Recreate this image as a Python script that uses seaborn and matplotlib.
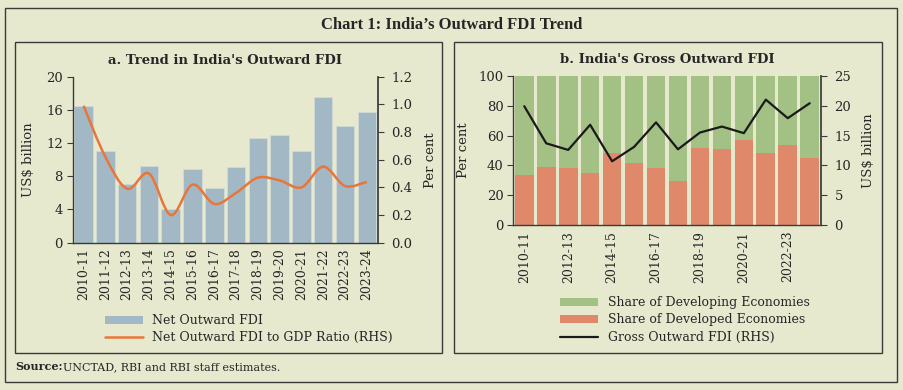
import numpy as np
import pandas as pd
import matplotlib
matplotlib.use('Agg')
import matplotlib.pyplot as plt
import seaborn as sns
from matplotlib.path import Path
from matplotlib.patches import PathPatch, Rectangle, Patch
from matplotlib.lines import Line2D

# data
years = ['2010-11', '2011-12', '2012-13', '2013-14', '2014-15', '2015-16', '2016-17',
         '2017-18', '2018-19', '2019-20', '2020-21', '2021-22', '2022-23', '2023-24']
net_ofdi = [16.5, 11.1, 7.1, 9.2, 4.1, 8.9, 6.6, 9.1, 12.6, 13.0, 11.0, 17.6, 14.0, 15.7]
ofdi_gdp = [0.99, 0.62, 0.39, 0.50, 0.20, 0.42, 0.28, 0.36, 0.47, 0.45, 0.40, 0.55, 0.41, 0.44]
developed_share = [33.6, 39.0, 38.5, 34.7, 48.3, 41.9, 38.5, 29.4, 51.4, 50.8, 57.2, 48.6, 53.9, 45.2]
developing_share = [66.4, 61.0, 61.5, 65.3, 51.7, 58.1, 61.5, 70.6, 48.6, 49.2, 42.8, 51.4, 46.1, 54.8]
gross_ofdi = [19.9, 13.7, 12.6, 16.8, 10.7, 13.1, 17.2, 12.7, 15.5, 16.5, 15.4, 21.0, 17.9, 20.4]

df_a = pd.DataFrame({'year': years, 'net': net_ofdi, 'ratio': ofdi_gdp})
df_b = pd.DataFrame({'year': years, 'developed': developed_share,
                     'developing': developing_share, 'gross': gross_ofdi})
df_b['total'] = df_b['developed'] + df_b['developing']

BG = '#E7E9CF'
BLUE = '#A3B8C5'
ORANGE = '#E8763A'
GREEN = '#A3C184'
SALMON = '#E0896A'
FRAME = '#3A3A3A'

sns.set_theme(style='white')
plt.rcParams['font.family'] = ['DejaVu Serif']
plt.rcParams['font.size'] = 9

fig = plt.figure(figsize=(9.04, 3.90), dpi=100, facecolor=BG)
W, H = 904, 390


def fx(x):
    return x / W


def fy(y):
    return 1 - y / H


# frames
fig.patches.append(Rectangle((fx(5.3), fy(381.7)), fx(897.3 - 5.3), (381.7 - 7.7) / H,
                             transform=fig.transFigure, fill=False, ec=FRAME, lw=1.0))
fig.patches.append(Rectangle((fx(15.3), fy(353.3)), fx(442.3 - 15.3), (353.3 - 41.7) / H,
                             transform=fig.transFigure, fill=False, ec=FRAME, lw=1.0))
fig.patches.append(Rectangle((fx(454.3), fy(353.3)), fx(882 - 454.3), (353.3 - 41.7) / H,
                             transform=fig.transFigure, fill=False, ec=FRAME, lw=1.0))

fig.text(0.5, fy(25), "Chart 1: India\u2019s Outward FDI Trend", ha='center', va='center',
         fontsize=12, fontweight='bold', family='Liberation Serif')
fig.text(fx(15), fy(367), "Source:", ha='left', va='center', fontsize=8, fontweight='bold')
fig.text(fx(63), fy(367), "UNCTAD, RBI and RBI staff estimates.", ha='left', va='center', fontsize=8)


def smooth_path(xs, ys, t=1 / 6):
    # Excel-like smoothed line: cubic Bezier segments through the data points
    xs = np.asarray(xs, float)
    ys = np.asarray(ys, float)
    n = len(xs)
    verts = [(xs[0], ys[0])]
    codes = [Path.MOVETO]
    for i in range(n - 1):
        p0 = (xs[max(i - 1, 0)], ys[max(i - 1, 0)])
        p1 = (xs[i], ys[i])
        p2 = (xs[i + 1], ys[i + 1])
        p3 = (xs[min(i + 2, n - 1)], ys[min(i + 2, n - 1)])
        c1 = (p1[0] + (p2[0] - p0[0]) * t, p1[1] + (p2[1] - p0[1]) * t)
        c2 = (p2[0] - (p3[0] - p1[0]) * t, p2[1] - (p3[1] - p1[1]) * t)
        verts += [c1, c2, p2]
        codes += [Path.CURVE4] * 3
    return Path(verts, codes)


def style_axes(ax, label_every):
    n = len(years)
    ax.set_facecolor(BG)
    ax.spines['top'].set_visible(False)
    for s in ['left', 'bottom', 'right']:
        ax.spines[s].set_color(FRAME)
        ax.spines[s].set_linewidth(1.0)
    ax.set_xlim(-0.5, n - 0.5)
    ax.set_xticks(np.arange(-0.5, n, 1.0))
    ax.set_xticklabels([])
    ax.set_xticks(np.arange(0, n, label_every), minor=True)
    ax.set_xticklabels(years[::label_every], minor=True, rotation=90, fontsize=9)
    ax.tick_params(axis='x', which='major', direction='out', length=4, color=FRAME, width=0.8)
    ax.tick_params(axis='x', which='minor', length=0, pad=4)
    ax.tick_params(axis='y', direction='out', length=4, color=FRAME, width=0.8, labelsize=9.5, pad=3)
    ax.set_xlabel('')
    ax.grid(False)


# ---- panel a
ax1 = fig.add_axes([fx(72.7), fy(242.7), fx(377.7 - 72.7), (242.7 - 76.7) / H])
sns.barplot(data=df_a, x='year', y='net', color=BLUE, width=0.85, saturation=1,
            edgecolor='#D2DAD6', linewidth=0.6, ax=ax1)
style_axes(ax1, 1)
ax1.set_ylim(0, 20)
ax1.set_yticks(range(0, 21, 4))
ax1.set_ylabel('US$ billion', fontsize=9.5, labelpad=8)
ax1.spines['right'].set_visible(False)

ax1r = ax1.twinx()
ax1r.set_ylim(0, 1.2)
ax1r.set_yticks(np.arange(0, 1.21, 0.2))
ax1r.set_yticklabels([f'{v:.1f}' for v in np.arange(0, 1.21, 0.2)])
ax1r.add_patch(PathPatch(smooth_path(range(len(years)), df_a['ratio']), fill=False,
                         ec=ORANGE, lw=1.8))
for s in ['top', 'left', 'bottom']:
    ax1r.spines[s].set_visible(False)
ax1r.spines['right'].set_color(FRAME)
ax1r.tick_params(axis='y', direction='out', length=4, color=FRAME, width=0.8, labelsize=9.5, pad=6)
ax1r.set_ylabel('Per cent', fontsize=9.5, labelpad=8)
ax1r.grid(False)
ax1.set_title("a. Trend in India's Outward FDI", fontsize=9.5, fontweight='bold', pad=9)

handles_a = [Patch(facecolor=BLUE, edgecolor='none'), Line2D([], [], color=ORANGE, lw=1.8)]
fig.legend(handles_a, ['Net Outward FDI', 'Net Outward FDI to GDP Ratio (RHS)'],
           loc='upper left', bbox_to_anchor=(fx(100), fy(309)), frameon=False, fontsize=9,
           handlelength=3.0, handleheight=0.6, labelspacing=0.35, borderaxespad=0)

# ---- panel b
ax2 = fig.add_axes([fx(513.3), fy(225.3), fx(820.7 - 513.3), (225.3 - 75.7) / H])
sns.barplot(data=df_b, x='year', y='total', color=GREEN, width=0.85, saturation=1,
            edgecolor='none', ax=ax2)
sns.barplot(data=df_b, x='year', y='developed', color=SALMON, width=0.85, saturation=1,
            edgecolor='none', ax=ax2)
style_axes(ax2, 2)
ax2.set_ylim(0, 100)
ax2.set_yticks(range(0, 101, 20))
ax2.set_ylabel('Per cent', fontsize=9.5, labelpad=6)
ax2.spines['right'].set_visible(False)

ax2r = ax2.twinx()
sns.lineplot(x=np.arange(len(years)), y=df_b['gross'].values, color='#1A1A1A', lw=1.6, ax=ax2r)
ax2r.set_ylim(0, 25)
ax2r.set_yticks(range(0, 26, 5))
ax2r.set_xlim(-0.5, len(years) - 0.5)
for s in ['top', 'left', 'bottom']:
    ax2r.spines[s].set_visible(False)
ax2r.spines['right'].set_color(FRAME)
ax2r.tick_params(axis='y', direction='out', length=4, color=FRAME, width=0.8, labelsize=9.5, pad=6)
ax2r.set_ylabel('US$ billion', fontsize=9.5, labelpad=8)
ax2r.grid(False)
ax2.set_title("b. India's Gross Outward FDI", fontsize=9.5, fontweight='bold', pad=9)

handles_b = [Patch(facecolor=GREEN, edgecolor='none'), Patch(facecolor=SALMON, edgecolor='none'),
             Line2D([], [], color='#1A1A1A', lw=1.6)]
fig.legend(handles_b, ['Share of Developing Economies', 'Share of Developed Economies',
                       'Gross Outward FDI (RHS)'],
           loc='upper left', bbox_to_anchor=(fx(555), fy(291)), frameon=False, fontsize=9,
           handlelength=3.0, handleheight=0.6, labelspacing=0.35, borderaxespad=0)

fig.savefig('out.png', dpi=100, facecolor=BG)
